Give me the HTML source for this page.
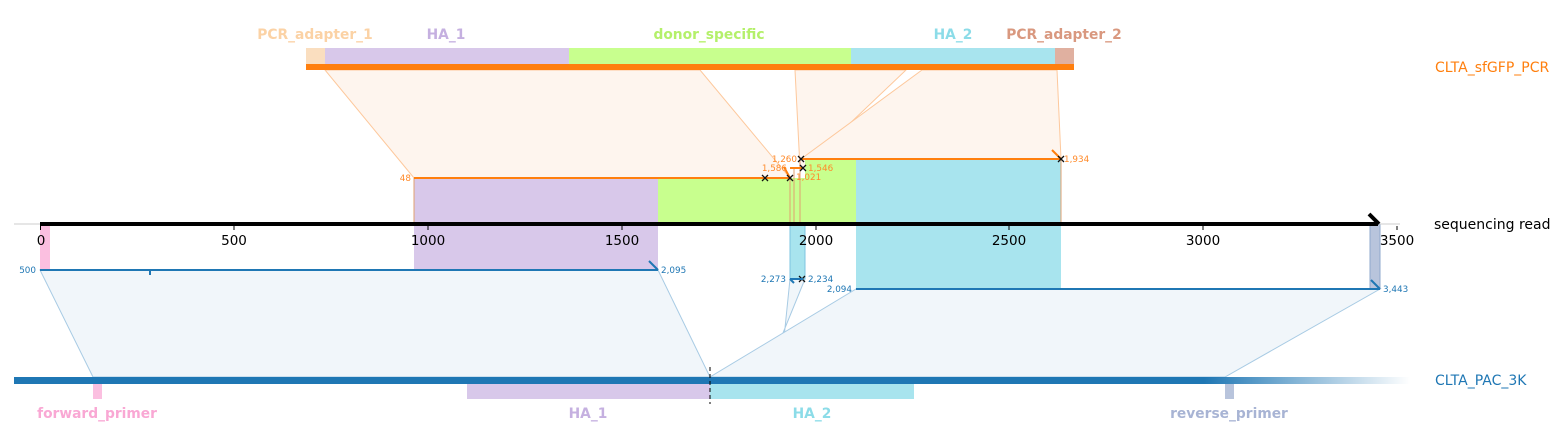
<!DOCTYPE html>
<html><head><style>body{margin:0;background:#fff}svg{display:block;font-family:"DejaVu Sans","Liberation Sans",sans-serif}</style></head><body>
<svg width="1560" height="448" viewBox="0 0 1560 448">
<defs><linearGradient id="g" x1="0" x2="1"><stop offset="0" stop-color="#1f77b4"/><stop offset="1" stop-color="#1f77b4" stop-opacity="0"/></linearGradient></defs>
<g fill="#fef5ee" stroke="#fdc89c" stroke-width="1">
<polygon points="325,70 700,70 790,178 414,178"/>
<polygon points="795,70 906,70 803,168 800,168"/>
<polygon points="922,70 1057,70 1061,159 801,159"/>
</g>
<g fill="#f1f6fa" stroke="#a8cbe4" stroke-width="1">
<polygon points="40,270 658,270 710,377 93,377"/>
<polygon points="790,279 805,279 765,377 780,377"/>
<polygon points="856,289 1380,289 1225,377 710,377"/>
</g>
<rect x="306" y="48" width="19" height="16" fill="#fadebf"/>
<rect x="325" y="48" width="244" height="16" fill="#d8c8ea"/>
<rect x="569" y="48" width="282" height="16" fill="#c8ff8e"/>
<rect x="851" y="48" width="204" height="16" fill="#a8e4ee"/>
<rect x="1055" y="48" width="19" height="16" fill="#e0b0a0"/>
<rect x="306" y="64" width="768" height="6" fill="#ff7f0e"/>
<g font-size="13.8" font-weight="bold" text-anchor="middle">
<text x="315" y="39" fill="#fbd2a5">PCR_adapter_1</text>
<text x="446" y="39" fill="#c5b0e0">HA_1</text>
<text x="709" y="39" fill="#b4f06a">donor_specific</text>
<text x="953" y="39" fill="#8cdce8">HA_2</text>
<text x="1064" y="39" fill="#d9987f">PCR_adapter_2</text>
<text x="97" y="418" fill="#f9a8d4">forward_primer</text>
<text x="588" y="418" fill="#c5b0e0">HA_1</text>
<text x="812" y="418" fill="#8cdce8">HA_2</text>
<text x="1229" y="418" fill="#a8b4d4">reverse_primer</text>
</g>
<rect x="414" y="178" width="244" height="92" fill="#d8c8ea"/>
<rect x="658" y="178" width="132" height="46" fill="#c8ff8e"/>
<rect x="790" y="178" width="15" height="46" fill="#c8ff8e"/>
<rect x="805" y="160" width="51" height="64" fill="#c8ff8e"/>
<rect x="856" y="159" width="205" height="130" fill="#a8e4ee"/>
<rect x="790" y="224" width="15" height="55" fill="#a8e4ee" stroke="#7ec4e0"/>
<rect x="40" y="224" width="10" height="46" fill="#fbbfe0"/>
<rect x="1370" y="224" width="10" height="65" fill="#b8c4dc" stroke="#8fa8cc"/>
<g stroke="#e0a070" stroke-width="1" fill="none">
<line x1="414" y1="178" x2="414" y2="224"/><line x1="790" y1="178" x2="790" y2="224"/><line x1="794" y1="168" x2="794" y2="224"/><line x1="800" y1="160" x2="800" y2="224"/><line x1="1061" y1="159" x2="1061" y2="224"/>
</g>
<g stroke="#ff7f0e" stroke-width="2" fill="none">
<line x1="414" y1="178" x2="790" y2="178"/>
<line x1="790" y1="168" x2="803" y2="168"/>
<line x1="800" y1="159" x2="1061" y2="159"/>
<line x1="1052" y1="150" x2="1061" y2="159"/>
<line x1="784" y1="167" x2="790" y2="178"/>
</g>
<g font-size="8.8" fill="#ff8a2a">
<text x="411" y="181" text-anchor="end">48</text>
<text x="797" y="162" text-anchor="end">1,260</text>
<text x="787" y="171" text-anchor="end">1,586</text>
<text x="808" y="171">1,546</text>
<text x="796" y="180">1,021</text>
<text x="1064" y="162">1,934</text>
</g>
<g stroke="#111" stroke-width="1.3">
<path d="M762,175l6,6M768,175l-6,6"/><path d="M787,175l6,6M793,175l-6,6"/><path d="M798,156l6,6M804,156l-6,6"/><path d="M800,165l6,6M806,165l-6,6"/><path d="M1058,156l6,6M1064,156l-6,6"/><path d="M799,276l6,6M805,276l-6,6"/>
</g>
<g stroke="#1f77b4" stroke-width="2" fill="none">
<line x1="40" y1="270" x2="658" y2="270"/>
<line x1="649" y1="261" x2="658" y2="270"/>
<line x1="150" y1="270" x2="150" y2="275"/>
<line x1="790" y1="279" x2="803" y2="279"/>
<line x1="790" y1="279" x2="794" y2="283"/>
<line x1="856" y1="289" x2="1380" y2="289"/>
<line x1="1371" y1="280" x2="1380" y2="289"/>
</g>
<g font-size="8.8" fill="#1f77b4">
<text x="36" y="273" text-anchor="end">500</text>
<text x="661" y="273">2,095</text>
<text x="786" y="282" text-anchor="end">2,273</text>
<text x="808" y="282">2,234</text>
<text x="852" y="292" text-anchor="end">2,094</text>
<text x="1383" y="292">3,443</text>
</g>
<line x1="14" y1="224" x2="1400" y2="224" stroke="#ccc" stroke-width="1"/>
<line x1="40" y1="224" x2="1378" y2="224" stroke="#000" stroke-width="4"/>
<line x1="1369" y1="214" x2="1379" y2="224" stroke="#000" stroke-width="4"/>
<g stroke="#000" stroke-width="1">
<line x1="40.5" y1="226" x2="40.5" y2="230"/><line x1="234" y1="226" x2="234" y2="230"/><line x1="428" y1="226" x2="428" y2="230"/><line x1="622" y1="226" x2="622" y2="230"/><line x1="816" y1="226" x2="816" y2="230"/><line x1="1009" y1="226" x2="1009" y2="230"/><line x1="1203" y1="226" x2="1203" y2="230"/><line x1="1397" y1="226" x2="1397" y2="230"/>
</g>
<g font-size="13.5" fill="#000" text-anchor="middle">
<text x="41" y="245">0</text><text x="234" y="245">500</text><text x="428" y="245">1000</text><text x="622" y="245">1500</text><text x="816" y="245">2000</text><text x="1009" y="245">2500</text><text x="1203" y="245">3000</text><text x="1397" y="245">3500</text>
</g>
<rect x="14" y="377" width="1190" height="7" fill="#1f77b4"/>
<rect x="1204" y="377" width="206" height="7" fill="url(#g)"/>
<rect x="93" y="384" width="9" height="15" fill="#fbbfe0"/>
<rect x="467" y="384" width="243" height="15" fill="#d8c8ea"/>
<rect x="710" y="384" width="204" height="15" fill="#a8e4ee"/>
<rect x="1225" y="384" width="9" height="15" fill="#b8c4dc"/>
<line x1="710" y1="367" x2="710" y2="404" stroke="#000" stroke-width="1" stroke-dasharray="4,3"/>
<g font-size="14">
<text x="1435" y="72" fill="#ff7f0e">CLTA_sfGFP_PCR</text>
<text x="1434" y="229" fill="#000">sequencing read</text>
<text x="1435" y="385" fill="#1f77b4">CLTA_PAC_3K</text>
</g>
</svg>
</body></html>
